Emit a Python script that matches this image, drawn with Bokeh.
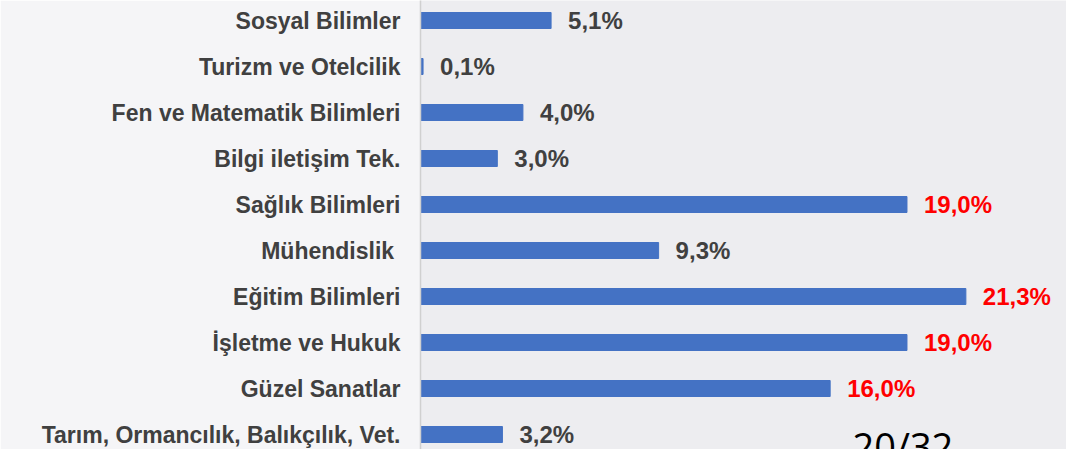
from bokeh.plotting import figure
from bokeh.models import Range1d, FixedTicker, ColumnDataSource, Label
from bokeh.embed import file_html
from bokeh.resources import INLINE
from bokeh.core.properties import value

# Data (bottom to top)
categories = [
    "Tarım, Ormancılık, Balıkçılık, Vet.",
    "Güzel Sanatlar",
    "İşletme ve Hukuk",
    "Eğitim Bilimleri",
    "Mühendislik ",
    "Sağlık Bilimleri",
    "Bilgi iletişim Tek.",
    "Fen ve Matematik Bilimleri",
    "Turizm ve Otelcilik",
    "Sosyal Bilimler",
]
percent = [3.2, 16.0, 19.0, 21.3, 9.3, 19.0, 3.0, 4.0, 0.1, 5.1]
page_number = "20/32"

ypos = list(range(len(categories)))
labels = [f"{v:.1f}".replace(".", ",") + "%" for v in percent]
label_colors = ["#FF0000" if v >= 16 else "#404040" for v in percent]

src = ColumnDataSource(dict(y=ypos, v=percent, lab=labels, col=label_colors))

FONT = "Liberation Sans"

p = figure(width=1066, height=449, output_backend="svg", toolbar_location=None,
           x_range=Range1d(0, 25.23), y_range=Range1d(-0.326, 9.435),
           min_border_left=420, min_border_right=0, min_border_top=0, min_border_bottom=0,
           background_fill_color="#EDEDF0", border_fill_color="#F5F5F7")
p.outline_line_color = None
p.grid.visible = False
p.xaxis.visible = False

p.hbar(y="y", right="v", left=0, height=0.348, source=src,
       fill_color="#4472C4", line_color="#4472C4")

p.text(x="v", y="y", text="lab", source=src, x_offset=17,
       text_color="col", text_font=value(FONT), text_font_style="bold",
       text_font_size="24px", text_baseline="middle", text_align="left")

ax = p.yaxis[0]
ax.ticker = FixedTicker(ticks=ypos)
ax.major_label_overrides = {i: c for i, c in zip(ypos, categories)}
ax.major_tick_in = 0
ax.major_tick_out = 0
ax.minor_tick_in = 0
ax.minor_tick_out = 0
ax.major_label_standoff = 20
ax.major_label_text_font = FONT
ax.major_label_text_font_style = "bold"
ax.major_label_text_font_size = "23px"
ax.major_label_text_color = "#404040"
ax.axis_line_color = "#D0D0D0"
ax.axis_line_width = 1.5

p.add_layout(Label(x=432, y=30, x_units="screen", y_units="screen", text=page_number,
                   text_baseline="top",
                   text_font="Open Sans", text_font_size="38px", text_color="#000000"))

open("out.html", "w").write(file_html(p, INLINE))
